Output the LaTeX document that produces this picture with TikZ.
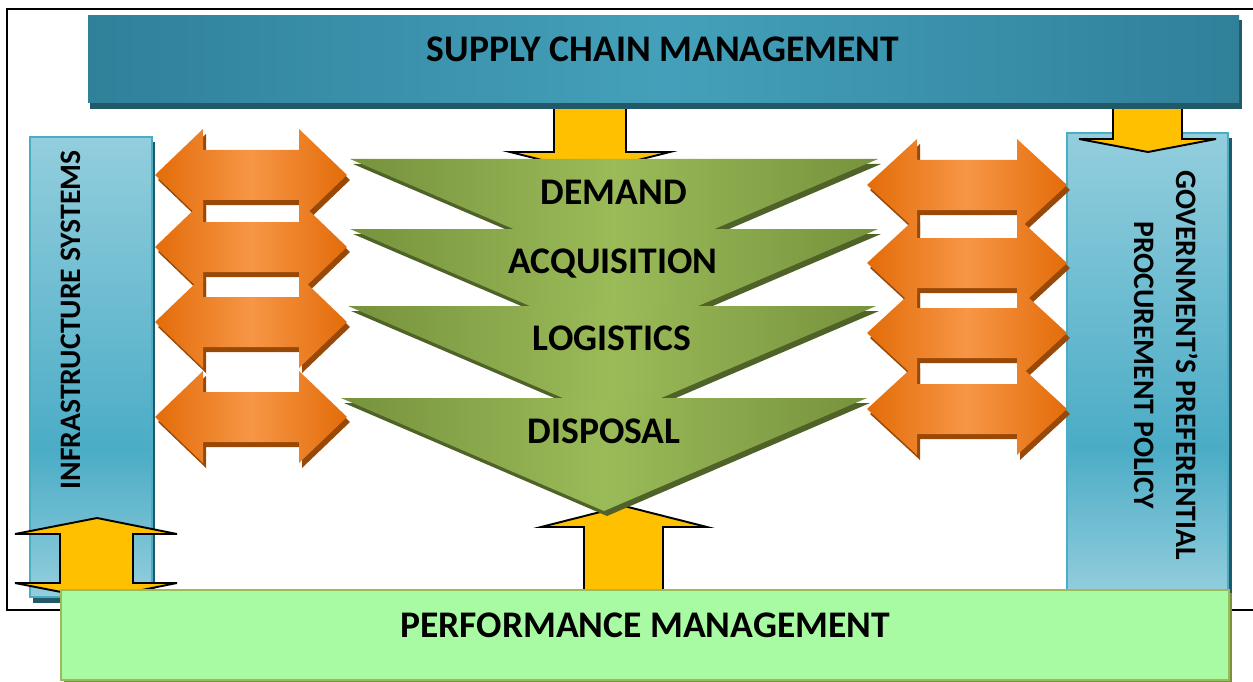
\documentclass[tikz,border=0pt]{standalone}
\usepackage{fontspec}
\setmainfont{Carlito}
\definecolor{tealA}{HTML}{30809A}
\definecolor{tealB}{HTML}{44A0BA}
\definecolor{tealS}{HTML}{215968}
\definecolor{blueL}{HTML}{93CEDD}
\definecolor{blueD}{HTML}{4BACC6}
\definecolor{blueE}{HTML}{4BACC6}
\definecolor{orA}{HTML}{E36C09}
\definecolor{orB}{HTML}{F79646}
\definecolor{orS}{HTML}{984807}
\definecolor{olA}{HTML}{76923C}
\definecolor{olB}{HTML}{9BBB59}
\definecolor{olS}{HTML}{4F6228}
\definecolor{yel}{HTML}{FFC000}
\definecolor{grF}{HTML}{A9FBA3}
\definecolor{grE}{HTML}{9BBB59}
\definecolor{grS}{HTML}{76923C}
\pgfdeclareverticalshading{bluebox}{100bp}{color(0bp)=(blueL); color(25bp)=(blueL); color(41bp)=(blueD); color(75bp)=(blueL); color(100bp)=(blueL)}
\tikzset{
  lbl/.style={font=\bfseries\fontsize{21.4}{25}\selectfont, text=black, inner sep=0pt, anchor=base},
  vlbl/.style={font=\bfseries\fontsize{16.9}{23.8}\selectfont, text=black, inner sep=0pt, align=center},
  yarrow/.style={fill=yel, draw=black, line width=1.1pt, line join=miter},
  orbody/.style={left color=orA, right color=orA, middle color=orB},
  olbody/.style={left color=olA, right color=olA, middle color=olB},
  tealbody/.style={left color=tealA, right color=tealA, middle color=tealB},
}
% double arrow outline: left tip x, right tip x, head length
\newcommand\dblshape[3]{(#1,0) -- (#1+#3,-46) -- (#1+#3,-25) -- (#2-#3,-25) -- (#2-#3,-46) -- (#2,0) -- (#2-#3,46) -- (#2-#3,25) -- (#1+#3,25) -- (#1+#3,46) -- cycle}
\newcommand\orangearrow[4]{%
  \begin{scope}[shift={(0,#3)}]
    \fill[orS, shift={(3,5)}] \dblshape{#1}{#2}{#4};
    \shade[orbody] \dblshape{#1}{#2}{#4};
  \end{scope}}
% inverted triangle: centre x, top y, half width
\newcommand\funnel[3]{%
  \fill[olS] (#1-#3+3,#2+5) -- (#1+#3+3,#2+5) -- (#1+3,#2+118) -- cycle;
  \shade[olbody] (#1-#3,#2) -- (#1+#3,#2) -- (#1,#2+113) -- cycle;}
\begin{document}
\begin{tikzpicture}[x=0.02cm,y=-0.02cm]
\useasboundingbox (0,0) rectangle (1253,682);
\clip (0,0) rectangle (1253,682);
% frame
\draw[line width=1.1pt] (7,9) rectangle (1275,610);
% side boxes
\fill[tealS] (33,142) rectangle (155,603);
\shade[shading=bluebox, draw=blueE, line width=1.1pt] (30,137) rectangle (152,597);
\node[vlbl, rotate=90, anchor=base] (infra) at (80,320) {INFRASTRUCTURE SYSTEMS};
\fill[tealS] (1071,138) rectangle (1232,600);
\shade[shading=bluebox, draw=blueE, line width=1.1pt] (1067,133) rectangle (1228,595);
\node[vlbl, rotate=-90] (gov) at (1166,365) {GOVERNMENT’S PREFERENTIAL\\PROCUREMENT POLICY};
% yellow arrows
\draw[yarrow] (97,518) -- (177,534) -- (133,534) -- (133,583) -- (177,583) -- (97,599) -- (15,583) -- (60,583) -- (60,534) -- (15,534) -- cycle;
\draw[yarrow] (624,506) -- (707,527) -- (663,527) -- (663,600) -- (584,600) -- (584,527) -- (541,527) -- cycle;
\draw[yarrow] (1113,100) -- (1182,100) -- (1182,139) -- (1216,139) -- (1148,152) -- (1079,139) -- (1113,139) -- cycle;
\draw[yarrow] (554,100) -- (626,100) -- (626,152) -- (670,152) -- (590,172) -- (510,152) -- (554,152) -- cycle;
% top bar
\fill[tealS] (90,20) rectangle (1242,109);
\shade[tealbody] (88,16) rectangle (1239,103);
\node[lbl] (scm) at (663,62) {SUPPLY CHAIN MANAGEMENT};
% orange double arrows
\orangearrow{155}{347}{175}{48}
\orangearrow{155}{347}{247}{48}
\orangearrow{155}{347}{322}{48}
\orangearrow{155}{347}{417}{48}
\orangearrow{867}{1067}{185}{50}
\orangearrow{867}{1067}{263}{50}
\orangearrow{867}{1067}{333}{50}
\orangearrow{867}{1067}{409}{50}
% funnel
\funnel{614}{159}{264}
\node[lbl] (demand) at (614,204) {DEMAND};
\funnel{614}{229}{264}
\node[lbl] (acq) at (613,273) {ACQUISITION};
\funnel{612}{306}{264}
\node[lbl] (log) at (612,350.5) {LOGISTICS};
\funnel{604}{398}{263}
\node[lbl] (disp) at (604,443) {DISPOSAL};
% bottom bar
\fill[grS] (64,593) rectangle (1232,683);
\draw[fill=grF, draw=grE, line width=1.1pt] (61,590) rectangle (1229,680);
\node[lbl] (perf) at (645,637) {PERFORMANCE MANAGEMENT};
\end{tikzpicture}
\end{document}
